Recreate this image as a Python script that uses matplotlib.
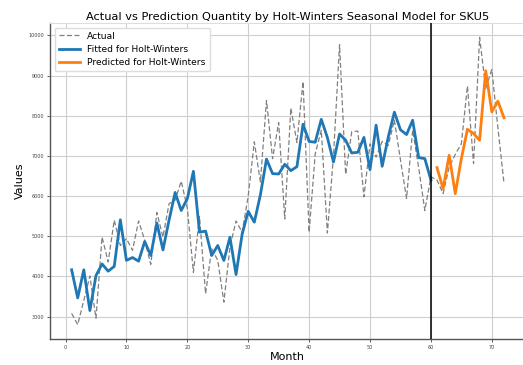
import matplotlib
matplotlib.use("Agg")
import matplotlib.pyplot as plt

months_actual = list(range(1, 73))
actual = [3080, 2800, 3400, 4010, 2960, 4980, 4360, 5400, 4770, 4940,
          4650, 5380, 4900, 4300, 5590, 4980, 5810, 5900, 6370, 5700,
          4100, 5490, 3570, 4690, 4400, 3360, 4730, 5380, 5100, 6000,
          7350, 6350, 8380, 6930, 7830, 5430, 8190, 7330, 8850, 5100,
          7050, 7640, 5080, 7000, 9770, 6540, 7600, 7620, 5980, 7300,
          6970, 7360, 7260, 7890, 6900, 5940, 7640, 6700, 5640, 6480,
          6400, 6060, 6720, 7040, 7300, 8740, 6810, 9950, 8680, 9150,
          7700, 6320]

months_fit = list(range(1, 61))
fitted = [4165, 3465, 4165, 3150, 4020, 4310, 4130, 4250, 5410, 4400,
          4470, 4380, 4870, 4520, 5330, 4660, 5400, 6090, 5640, 5935,
          6616, 5100, 5128, 4521, 4770, 4397, 4975, 4047, 5050, 5620,
          5350, 6030, 6920, 6558, 6550, 6791, 6633, 6732, 7788, 7360,
          7340, 7910, 7456, 6849, 7545, 7389, 7073, 7090, 7460, 6658,
          7764, 6741, 7472, 8088, 7650, 7531, 7888, 6957, 6932, 6400]

months_pred = list(range(61, 73))
predicted = [6708, 6184, 7015, 6060, 6930, 7664, 7556, 7390, 9118, 8096,
             8362, 7946]

split_month = 60
title = "Actual vs Prediction Quantity by Holt-Winters Seasonal Model for SKU5"

fig = plt.figure(figsize=(5.23, 3.65), dpi=100)
ax = fig.add_axes([50/523, 26/365, 475.6/523, 316/365])

ax.plot(months_actual, actual, linestyle=(0, (4, 2)), color="#808080",
        linewidth=0.9, label="Actual", zorder=2)
ax.plot(months_fit, fitted, color="#1f77b4", linewidth=2.0,
        label="Fitted for Holt-Winters", zorder=3)
ax.plot(months_pred, predicted, color="#ff7f0e", linewidth=2.0,
        label="Predicted for Holt-Winters", zorder=3)
ax.axvline(split_month, color="black", linewidth=1.1, zorder=4)

ax.set_xticks(range(0, 80, 10))
ax.set_yticks(range(3000, 11000, 1000))
ax.grid(True, color="#cfcfcf", linewidth=0.8)
ax.set_axisbelow(True)
ax.tick_params(axis="both", labelsize=3.5, length=2, width=0.6,
               colors="#444444", pad=2)
for side in ["left", "bottom"]:
    ax.spines[side].set_color("#555555")
    ax.spines[side].set_linewidth(1.0)
for side in ["top", "right"]:
    ax.spines[side].set_color("#dddddd")

ax.set_xlabel("Month", fontsize=8, labelpad=2)
ax.set_ylabel("Values", fontsize=8, labelpad=3)
ax.set_title(title, fontsize=8.2, pad=2.5)
ax.legend(loc="upper left", fontsize=6.6, frameon=True, framealpha=1,
          edgecolor="#dddddd", borderpad=0.45, labelspacing=0.45,
          handlelength=2.3)

fig.savefig("out.png", dpi=100)
